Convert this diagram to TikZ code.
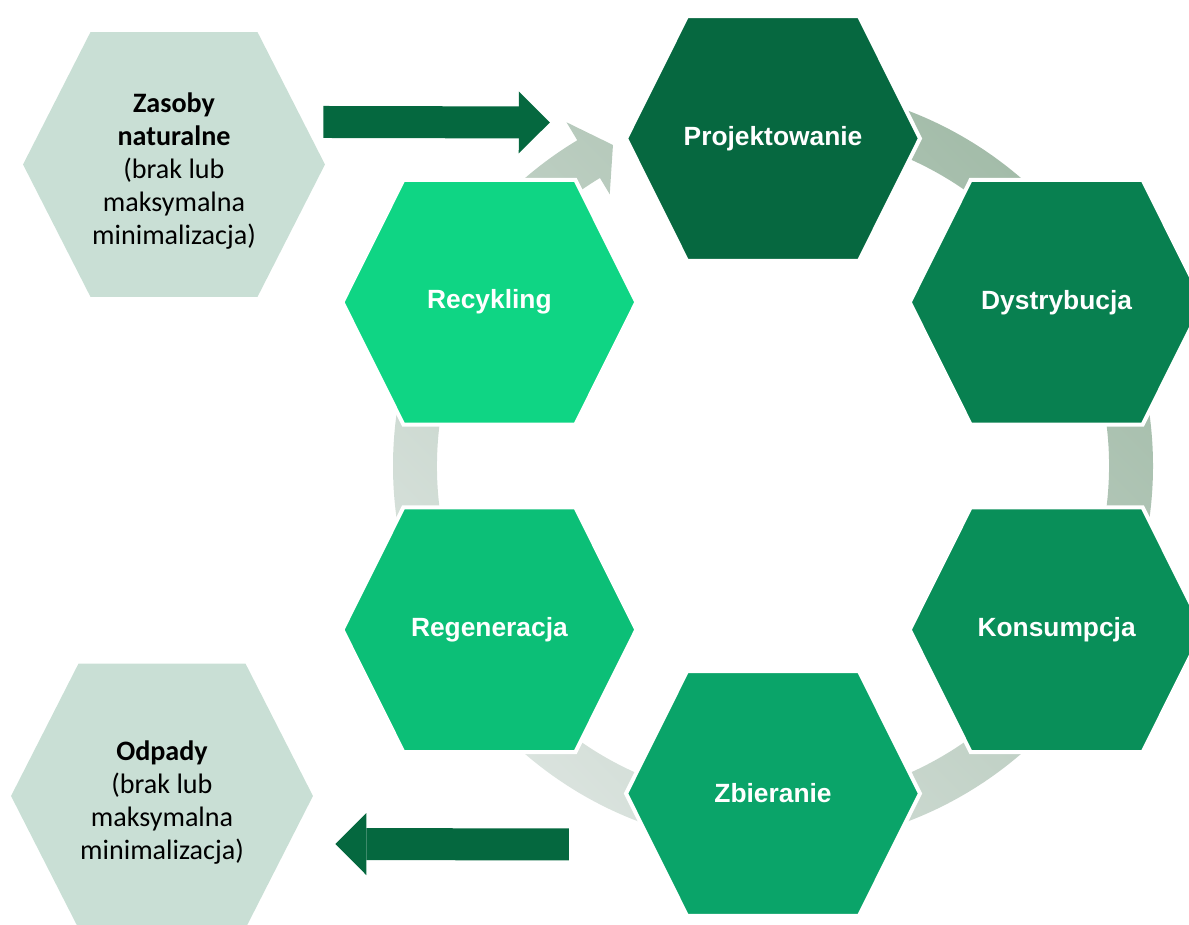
\documentclass[tikz,border=0pt]{standalone}
\usepackage{fontspec}
\setmainfont{Liberation Sans}
\newfontfamily\calibri{Carlito}
\usepackage{xcolor}
\usepackage{tikz}
\usetikzlibrary{arrows.meta}
\usetikzlibrary{shapes}
\usetikzlibrary{calc}

\definecolor{stage1}{HTML}{066840}
\definecolor{stage2}{HTML}{088050}
\definecolor{stage3}{HTML}{098F59}
\definecolor{stage4}{HTML}{0AA469}
\definecolor{stage5}{HTML}{0CBF77}
\definecolor{stage6}{HTML}{0FD584}
\definecolor{outside}{HTML}{C9DFD5}
\definecolor{flow}{HTML}{05683F}
\definecolor{ringdark}{HTML}{A3BCA9}
\definecolor{ringlight}{HTML}{DAE3DE}

\tikzset{%
  every stage/.style={
    signal,
    signal to=east and west,
    signal pointer angle=127,
    draw=white,
    line width=0.08cm,
    minimum width=5.88cm,
    minimum height=4.9cm,
    inner xsep=-1cm,
    inner ysep=0pt,
    text=white,
    font=\fontsize{15}{17}\selectfont\bfseries
  },
  outside stage/.style={
    signal,
    signal to=east and west,
    signal pointer angle=126,
    fill=outside,
    minimum width=6.04cm,
    minimum height=5.3cm,
    inner sep=0pt
  },
  outside text/.style={
    align=center,
    yshift=-0.13cm,
    font=\calibri\fontsize{16}{18.7}\selectfont
  },
  flow arrow/.style={
    draw=flow,
    line width=0.64cm,
    -{Triangle[length=0.62cm, width=1.24cm, line width=0pt]}
  },
}

\begin{document}
\begin{tikzpicture}[x=0.02cm, y=0.02cm]

    \useasboundingbox (0,0) rectangle (1189,925);

    % ring behind the stages
    \coordinate (hub) at (773,459);
    \shade [top color=ringdark, bottom color=ringlight, shading angle=-45]
        ([shift={(hub)}]90:380) arc [start angle=90, end angle=-239, radius=380]
        -- ([shift={(hub)}]-239:401) -- ([shift={(hub)}]-243.5:358.7)
        -- ([shift={(hub)}]-239:317) -- ([shift={(hub)}]-239:336)
        arc [start angle=-239, end angle=90, radius=336] -- cycle;

    \foreach \n/\t [count=\i] in {proj/Projektowanie, dyst/Dystrybucja, kons/Konsumpcja, zbier/Zbieranie, regen/Regeneracja, recyk/Recykling}
    \node [every stage, fill=stage\i] (\n) at ([shift={(hub)}]{150-60*\i}:327.5) {\t};

    \node [outside stage,
        label={[outside text]center:{\textbf{Zasoby}\\\textbf{naturalne}\\(brak lub\\maksymalna\\minimalizacja)}}]
        (zasoby) at (174,760.5) {};
    \node [outside stage,
        label={[outside text]center:{\textbf{Odpady}\\(brak lub\\maksymalna\\minimalizacja)}}]
        (odpady) at (162,129) {};

    \draw [flow arrow] ($(zasoby.east)+(-2,42.5)$) -- ($(proj.west)+(-74,16)$);
    \draw [flow arrow] ($(zbier.west)+(-55,-51)$) -- ($(odpady.east)+(22,-48)$);

\end{tikzpicture}
\end{document}
